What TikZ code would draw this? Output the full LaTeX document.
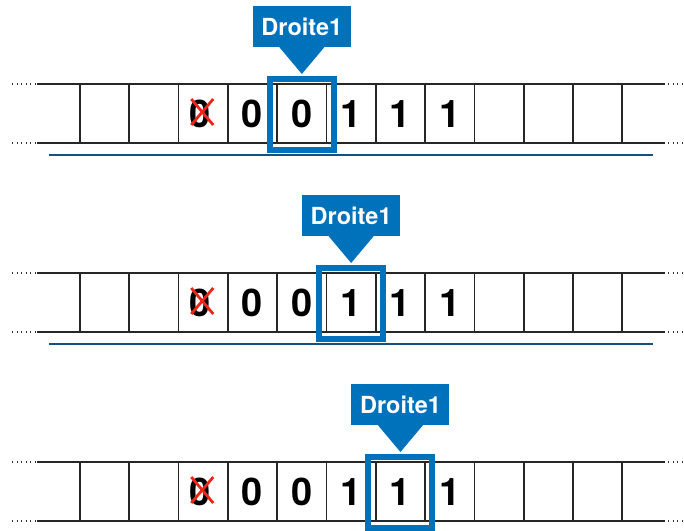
\documentclass[tikz,border=0pt]{standalone}
\usepackage{fontspec}
\newfontfamily\hv{TeX Gyre Heros}
\usetikzlibrary{calc}
\definecolor{headblue}{RGB}{0,114,188}
\definecolor{lineblue}{RGB}{22,80,128}
\definecolor{xred}{RGB}{235,40,25}
\begin{document}
\begin{tikzpicture}[x=1pt,y=-1pt,
  tapeline/.style={line width=1.7pt, draw=black!85},
  dotline/.style={line width=1.4pt, dash pattern=on 1.4pt off 3.1pt, draw=black!80},
  digit/.style={font=\hv\bfseries\fontsize{38}{38}\selectfont, inner sep=0pt},
  headbox/.style={draw=headblue, line width=6pt, minimum width=64pt, minimum height=70.5pt, inner sep=0pt},
  headlabel/.style={fill=headblue, text=white, font=\hv\bfseries\fontsize{23.5}{23.5}\selectfont, minimum width=98pt, minimum height=41pt, inner sep=0pt},
  underline/.style={draw=lineblue, line width=1.2pt},
  cross/.style={draw=xred, line width=2.8pt}]
\useasboundingbox (0,0) rectangle (684,530);
\clip (0,0) rectangle (684,530);
\foreach \r/\T/\h in {1/84/4, 2/273/5, 3/462/6}{
  \pgfmathsetmacro{\B}{\T+59}
  % tape borders
  \draw[tapeline] (37,\T) -- (665,\T);
  \draw[tapeline] (37,\B) -- (665,\B);
  \draw[dotline] (12,\T) -- (36,\T);
  \draw[dotline] (12,\B) -- (36,\B);
  \draw[dotline] (668,\T) -- (684,\T);
  \draw[dotline] (668,\B) -- (684,\B);
  \foreach \k in {0,...,11}{
    \pgfmathsetmacro{\xx}{80+49.3*\k}
    \draw[tapeline] (\xx,\T) -- (\xx,\B);
  }
  % cell contents
  \pgfmathsetmacro{\ym}{\T+30}
  \foreach \k/\d in {2/0,3/0,4/0,5/1,6/1,7/1}{
    \pgfmathsetmacro{\xc}{80+49.3*\k+24.65-(\k==2)*3}
    \node[digit] (c\r-\k) at (\xc,\ym) {\d};
  }
  % crossed symbol
  \pgfmathsetmacro{\xa}{80+49.3*2+24.65-12}
  \pgfmathsetmacro{\xb}{80+49.3*2+24.65+10}
  \pgfmathsetmacro{\ya}{\T+15}
  \pgfmathsetmacro{\yb}{\T+41}
  \coordinate (xa\r) at (\xa,\ya);
  \coordinate (xb\r) at (\xb,\yb);
  \coordinate (xc\r) at (\xb,\ya);
  \coordinate (xd\r) at (\xa,\yb);
  \draw[cross] (xa\r) -- (xb\r);
  \draw[cross] (xc\r) -- (xd\r);
  % head
  \pgfmathsetmacro{\hx}{80+49.3*\h+24.65}
  \pgfmathsetmacro{\hy}{\T+30.25}
  \pgfmathsetmacro{\ly}{\T-57.5}
  \node[headbox] (h\r) at (\hx,\hy) {};
  \node[headlabel] (l\r) at (\hx,\ly) {Droite1};
  \fill[headblue] ($(l\r.south)+(-22.5,0)$) -- ($(h\r.north)+(0,-2)$) -- ($(l\r.south)+(22.5,0)$) -- cycle;
  % underline
  \ifnum\r<3
    \pgfmathsetmacro{\uy}{\T+71}
    \draw[underline] (49,\uy) -- (653,\uy);
  \fi
}
\end{tikzpicture}
\end{document}
